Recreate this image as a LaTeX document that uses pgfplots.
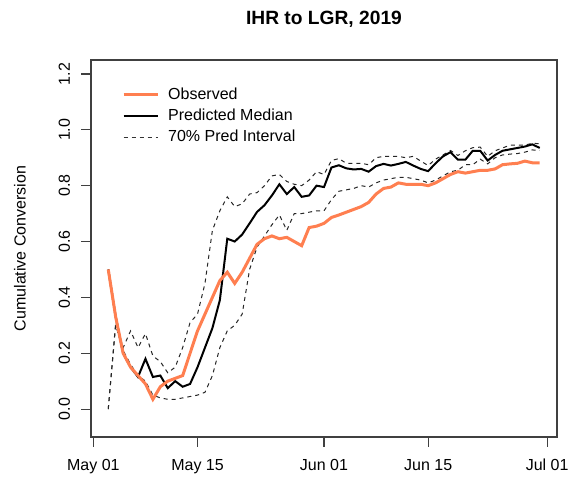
\documentclass[border=0pt]{standalone}
\usepackage{fontspec}
\setmainfont{Liberation Sans}
\usepackage{pgfplots}
\usepackage{pgfplotstable}
\pgfplotsset{compat=1.18}
\definecolor{coral}{HTML}{FF7F50}
\definecolor{boxgray}{HTML}{404040}
\pgfplotstableread{
d obs med lo hi
2 0.50 0.50 0.00 0.00
3 0.33 0.33 0.30 0.31
4 0.20 0.20 0.21 0.22
5 0.15 0.15 0.16 0.28
6 0.12 0.115 0.12 0.22
7 0.09 0.18 0.10 0.27
8 0.035 0.115 0.05 0.19
9 0.08 0.12 0.04 0.17
10 0.10 0.075 0.035 0.13
11 0.11 0.10 0.035 0.15
12 0.12 0.08 0.04 0.22
13 0.20 0.09 0.045 0.31
14 0.28 0.15 0.05 0.34
15 0.34 0.22 0.06 0.45
16 0.40 0.29 0.12 0.64
17 0.46 0.39 0.22 0.71
18 0.49 0.61 0.28 0.76
19 0.45 0.60 0.30 0.725
20 0.49 0.625 0.34 0.735
21 0.54 0.665 0.50 0.77
22 0.59 0.706 0.58 0.775
23 0.61 0.73 0.62 0.80
24 0.62 0.765 0.66 0.835
25 0.61 0.805 0.695 0.84
26 0.615 0.77 0.64 0.815
27 0.60 0.795 0.70 0.805
28 0.585 0.76 0.70 0.80
29 0.65 0.765 0.705 0.82
30 0.655 0.80 0.71 0.85
31 0.665 0.795 0.71 0.84
32 0.686 0.865 0.75 0.89
33 0.695 0.873 0.78 0.897
34 0.705 0.862 0.785 0.88
35 0.715 0.858 0.79 0.88
36 0.725 0.86 0.80 0.88
37 0.74 0.85 0.795 0.875
38 0.77 0.87 0.81 0.90
39 0.79 0.878 0.82 0.905
40 0.795 0.872 0.825 0.905
41 0.81 0.878 0.83 0.905
42 0.805 0.885 0.83 0.90
43 0.805 0.872 0.825 0.905
44 0.805 0.86 0.82 0.888
45 0.80 0.852 0.81 0.872
46 0.81 0.88 0.82 0.895
47 0.825 0.905 0.835 0.91
48 0.84 0.92 0.85 0.926
49 0.85 0.893 0.855 0.908
50 0.845 0.893 0.875 0.925
51 0.85 0.925 0.875 0.936
52 0.855 0.925 0.895 0.938
53 0.855 0.89 0.878 0.905
54 0.86 0.91 0.90 0.925
55 0.875 0.925 0.91 0.935
56 0.878 0.93 0.913 0.945
57 0.88 0.935 0.915 0.945
58 0.888 0.94 0.92 0.945
59 0.882 0.948 0.928 0.952
60 0.882 0.935 0.926 0.95
}\data
\begin{document}
\begin{tikzpicture}
\begin{axis}[
  name=ax,
  scale only axis,
  width=466bp, height=377bp,
  xmin=-0.32, xmax=62.32,
  ymin=-0.1, ymax=1.25,
  axis lines=box,
  axis line style={draw=boxgray, line width=1.2bp},
  tick style={draw=boxgray, line width=1.1bp},
  tick align=outside,
  major tick length=9.5bp,
  xtick pos=left, ytick pos=left,
  xtick={0,14,31,45,61},
  xticklabels={May 01,May 15,Jun 01,Jun 15,Jul 01},
  ytick={0,0.2,0.4,0.6,0.8,1.0,1.2},
  /pgf/number format/assume math mode=true,
  y tick label style={/pgf/number format/fixed, /pgf/number format/fixed zerofill, /pgf/number format/precision=1, rotate=90, anchor=south},
  tick label style={font=\fontsize{16bp}{19bp}\selectfont},
  yticklabel shift=8bp,
  xticklabel shift=9bp,
  legend image code/.code={\draw[#1] (0bp,0bp) -- (34bp,0bp);},
  legend cell align=left,
  legend style={draw=none, fill=none, inner sep=0pt,
    at={(axis description cs:0.0665,0.931)}, anchor=north west,
    font=\fontsize{16bp}{19bp}\selectfont,
    row sep=3.8bp,
    nodes={inner sep=1bp, text height=12bp, text depth=3.5bp},
    /tikz/every odd column/.append style={column sep=8bp}},
]
\addlegendimage{coral, line width=3bp}
\addlegendentry{Observed}
\addlegendimage{black, line width=2bp}
\addlegendentry{Predicted Median}
\addlegendimage{black!80, line width=1bp, dash pattern=on 4bp off 4bp}
\addlegendentry{70\% Pred Interval}
\addplot[forget plot, black!85, line width=1bp, dash pattern=on 4bp off 4bp] table[x=d, y=lo] {\data};
\addplot[forget plot, black!85, line width=1bp, dash pattern=on 4bp off 4bp] table[x=d, y=hi] {\data};
\addplot[forget plot, black, line width=2bp] table[x=d, y=med] {\data};
\addplot[forget plot, coral, line width=3bp] table[x=d, y=obs] {\data};
\end{axis}
\draw[draw=boxgray, line width=1.2bp] (ax.south west) rectangle (ax.north east);
\node[anchor=base, font=\fontsize{19.2bp}{23bp}\selectfont\bfseries] at ([yshift=35bp]ax.north) {IHR to LGR, 2019};
\node[rotate=90, anchor=center, font=\fontsize{16bp}{19bp}\selectfont] at ([xshift=-71bp]ax.west) {Cumulative Conversion};
\pgfresetboundingbox
\path[use as bounding box] ([shift={(-91bp,-42bp)}]ax.south west) rectangle ([shift={(19bp,60bp)}]ax.north east);
\end{tikzpicture}
\end{document}
